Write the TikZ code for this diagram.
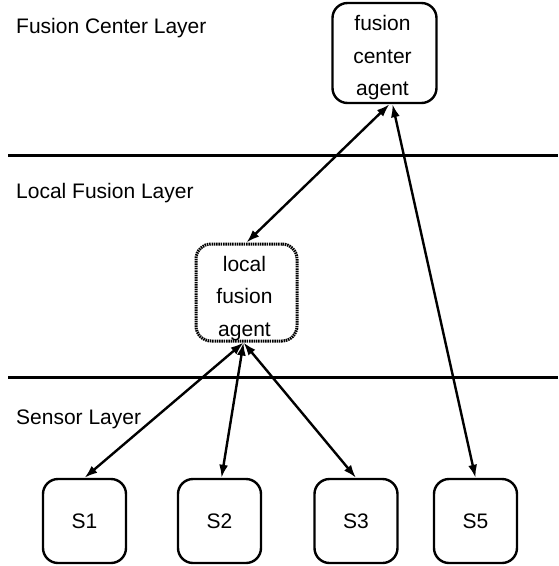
\documentclass[tikz,border=0pt]{standalone}
\usepackage{fontspec}
\setmainfont{Liberation Sans}
\usetikzlibrary{arrows.meta}
\begin{document}
\begin{tikzpicture}[x=1pt,y=-1pt,
  box/.style={draw, line width=2.4pt, rounded corners=15pt, align=center,
    font=\fontsize{21pt}{32.5pt}\selectfont, inner sep=0pt},
  dotbox/.style={box, line width=3pt, dash pattern=on 1.5pt off 0.8pt},
  boxtext/.style={align=center, inner sep=0pt, font=\fontsize{21pt}{32.5pt}\selectfont},
  sensor/.style={box, minimum width=83pt, minimum height=84pt},
  layerlabel/.style={anchor=base west, inner sep=0pt, font=\fontsize{21pt}{25pt}\selectfont},
  sep/.style={line width=3pt},
  biarrow/.style={line width=2.4pt, {Latex[length=13pt,width=9pt]}-{Latex[length=13pt,width=9pt]}}]
\useasboundingbox (0,0) rectangle (558,566);
% layer separators
\draw[sep] (8,155) -- (558,155);
\draw[sep] (8,377) -- (558,377);
% layer labels
\node[layerlabel] (lab1) at (16,33) {Fusion Center Layer};
\node[layerlabel] (lab2) at (16,198) {Local Fusion Layer};
\node[layerlabel] (lab3) at (16,424) {Sensor Layer};
% agents
\node[box, minimum width=104pt, minimum height=100pt] (fc) at (384.5,53) {};
\node[boxtext] (fctext) at ([yshift=-5pt,xshift=-2pt]fc.center) {fusion\\center\\agent};
\node[dotbox, minimum width=101pt, minimum height=97pt] (lf) at (246.5,292.5) {};
\node[boxtext] (lftext) at ([yshift=-6pt,xshift=-2pt]lf.center) {local\\fusion\\agent};
% sensors
\node[sensor] (s1) at (84.5,521) {S1};
\node[sensor] (s2) at (219.5,521) {S2};
\node[sensor] (s3) at (356,521) {S3};
\node[sensor] (s5) at (475.5,521) {S5};
% connectors
\draw[biarrow] ([xshift=5pt]fc.south) -- (lf.north);
\draw[biarrow] ([xshift=8pt]fc.south) -- (s5.north);
\draw[biarrow] ([xshift=-3pt]lf.south) -- (s1.north);
\draw[biarrow] ([xshift=-3pt]lf.south) -- ([xshift=2pt]s2.north);
\draw[biarrow] ([xshift=-3pt]lf.south) -- (s3.north);
\end{tikzpicture}
\end{document}
